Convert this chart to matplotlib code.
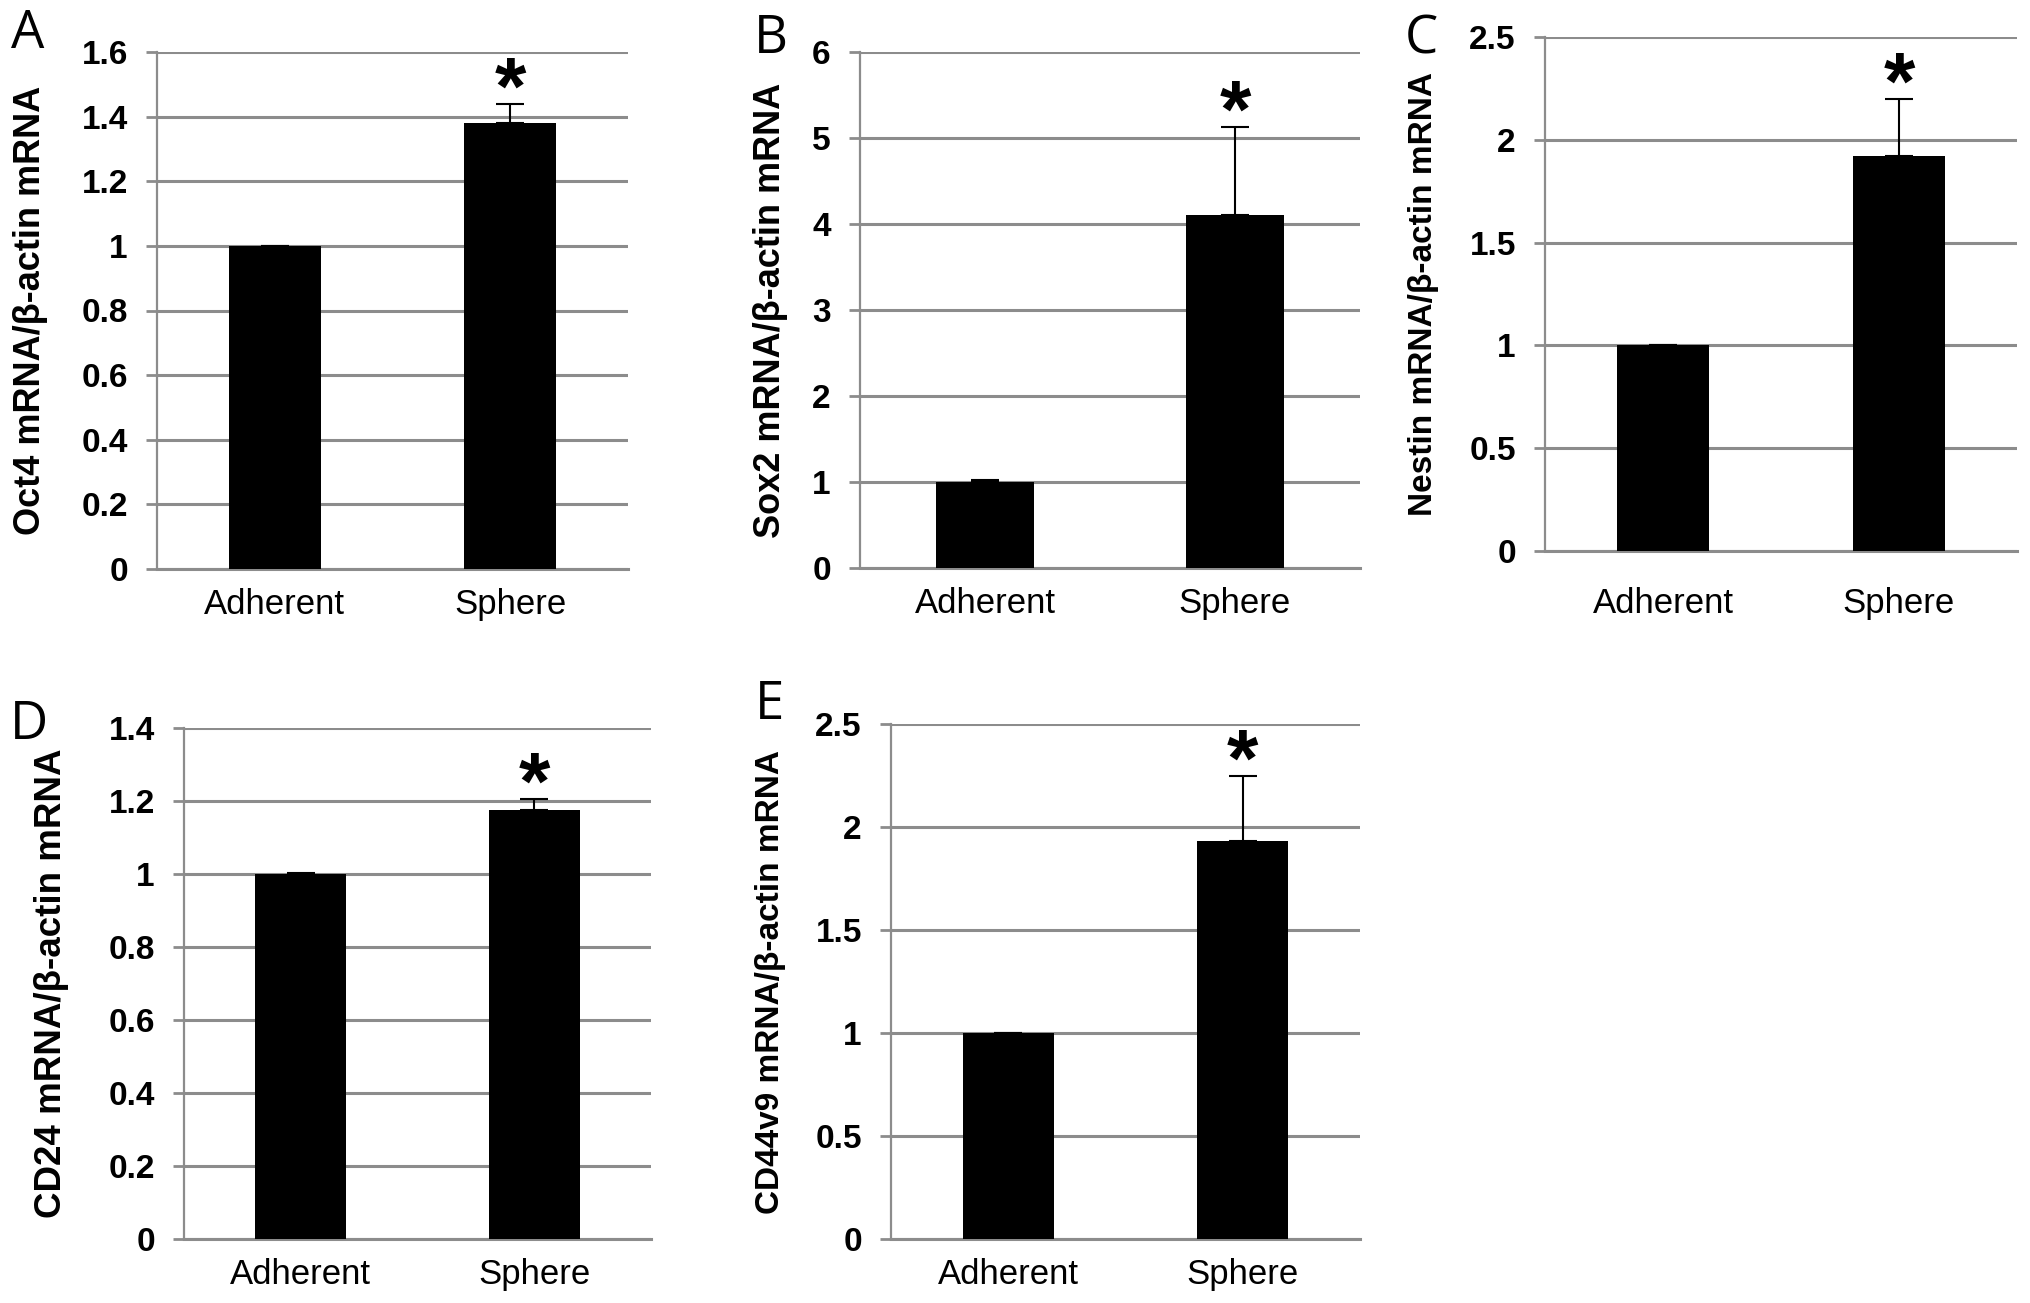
import matplotlib.pyplot as plt

plt.rcParams['font.family'] = ['Liberation Sans', 'DejaVu Sans']

groups = ['Adherent', 'Sphere']

# mean expression relative to adherent cells, upper error bar
oct4 = [1.0, 1.38]
oct4_err = [0.0, 0.06]
sox2 = [1.0, 4.1]
sox2_err = [0.02, 1.03]
nestin = [1.0, 1.92]
nestin_err = [0.0, 0.28]
cd24 = [1.0, 1.175]
cd24_err = [0.003, 0.03]
cd44v9 = [1.0, 1.93]
cd44v9_err = [0.0, 0.32]

panels = [
    # letter, values, errors, ylabel, yticklabels
    ('A', oct4, oct4_err, 'Oct4 mRNA/β-actin mRNA',
     ['0', '0.2', '0.4', '0.6', '0.8', '1', '1.2', '1.4', '1.6']),
    ('B', sox2, sox2_err, 'Sox2 mRNA/β-actin mRNA',
     ['0', '1', '2', '3', '4', '5', '6']),
    ('C', nestin, nestin_err, 'Nestin mRNA/β-actin mRNA',
     ['0', '0.5', '1', '1.5', '2', '2.5']),
    ('D', cd24, cd24_err, 'CD24 mRNA/β-actin mRNA',
     ['0', '0.2', '0.4', '0.6', '0.8', '1', '1.2', '1.4']),
    ('E', cd44v9, cd44v9_err, 'CD44v9 mRNA/β-actin mRNA',
     ['0', '0.5', '1', '1.5', '2', '2.5']),
]

W, H = 2031, 1303
# axes boxes in pixels: left, right, top, bottom, letter pos, ylabel x, ylabel size, xlabel pad
boxes = [
    (157, 628, 52, 569, (28, 34), 31, 26, 14),
    (860, 1360, 52, 568, (771, 39), 771, 26, 14),
    (1545, 2017, 37, 551, (1421, 40), 1424, 24, 26),
    (184, 651, 728, 1239, (29, 725), 52, 26.5, 14),
    (891, 1360, 724, 1239, (770, 705), 770, 24, 14),
]

fig = plt.figure(figsize=(W / 100, H / 100), dpi=100)
grid_col = '#8c8c8c'

for (letter, vals, errs, ylabel, ticklabels), box in zip(panels, boxes):
    l, r, t, b, (lx, ly), ylx, ylsize, xpad = box
    ax = fig.add_axes([l / W, 1 - b / H, (r - l) / W, (b - t) / H])
    x = range(len(groups))
    ax.bar(x, vals, width=0.39, color='black', zorder=3)
    ax.errorbar(x, vals, yerr=[[0] * len(errs), errs], fmt='none',
                ecolor='black', elinewidth=1.5, capsize=10, capthick=1.5, zorder=4)
    top = vals[1] + errs[1]
    ax.annotate('*', xy=(1, top), xytext=(0, -7), textcoords='offset points',
                ha='center', va='baseline', fontsize=58, fontweight='bold')

    ticks = [float(s) for s in ticklabels]
    ax.set_ylim(0, ticks[-1])
    ax.set_xlim(-0.5, 1.5)
    ax.set_yticks(ticks)
    ax.set_yticklabels(ticklabels, fontsize=24, fontweight='bold')
    ax.set_xticks(list(x))
    ax.set_xticklabels(groups, fontsize=25)
    ax.tick_params(axis='x', length=0, pad=xpad)
    ax.tick_params(axis='y', length=8, width=2, color=grid_col, pad=13)
    ax.grid(axis='y', color=grid_col, linewidth=2.2, zorder=0)
    for side in ['top', 'right']:
        ax.spines[side].set_visible(False)
    ax.spines['left'].set_color(grid_col)
    ax.spines['left'].set_linewidth(1.6)
    ax.spines['bottom'].set_color(grid_col)
    ax.spines['bottom'].set_linewidth(2.2)

    fig.text(lx / W, 1 - ly / H, letter, fontsize=38, ha='center', va='center',
             family=['Open Sans', 'DejaVu Sans'])
    fig.text(ylx / W, 1 - (t + b) / 2 / H, ylabel, rotation=90, fontsize=ylsize,
             fontweight='bold', ha='center', va='center')

fig.savefig('out.png', dpi=100)
